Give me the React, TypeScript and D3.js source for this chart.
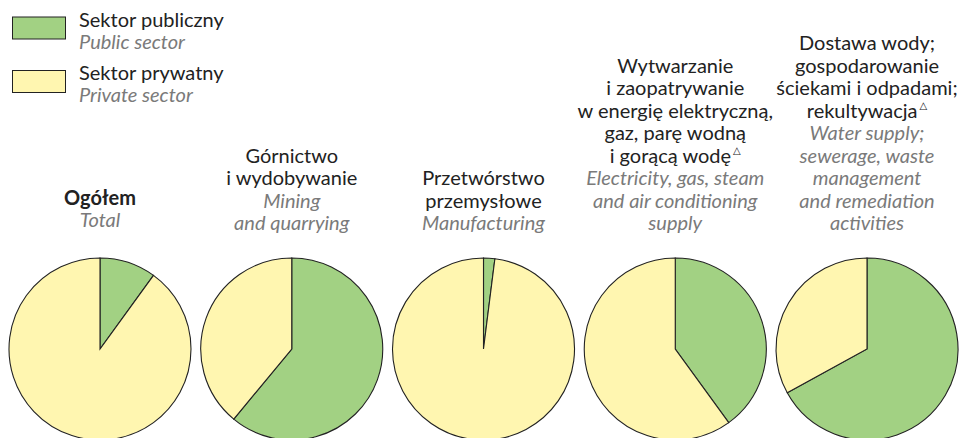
import React from 'react';
import * as d3 from 'd3';

// udział sektora publicznego / private = 100 - public
const keys = ['total', 'mining', 'manufacturing', 'electricity', 'water'];
const publicShare = [10, 61, 2, 40, 67];
const titlePl = [
  ['Ogółem'],
  ['Górnictwo', 'i wydobywanie'],
  ['Przetwórstwo', 'przemysłowe'],
  ['Wytwarzanie', 'i zaopatrywanie', 'w energię elektryczną,', 'gaz, parę wodną', 'i gorącą wodę△'],
  ['Dostawa wody;', 'gospodarowanie', 'ściekami i odpadami;', 'rekultywacja△'],
];
const titleEn = [
  ['Total'],
  ['Mining', 'and quarrying'],
  ['Manufacturing'],
  ['Electricity, gas, steam', 'and air conditioning', 'supply'],
  ['Water supply;', 'sewerage, waste', 'management', 'and remediation', 'activities'],
];
const legendPl = ['Sektor publiczny', 'Sektor prywatny'];
const legendEn = ['Public sector', 'Private sector'];

const W = 968;
const H = 438;
const GREEN = '#a2d183';
const YELLOW = '#fff6b0';
const FONT = 'Lato, "Open Sans", sans-serif';
const GREY = '#7a7a7a';
const FS = 20;

function Title({ pl, en, bold }: { pl: string[]; en: string[]; bold: boolean }) {
  const lh = 22.5;
  const lines = [...pl.map((t) => ({ t, en: false })), ...en.map((t) => ({ t, en: true }))];
  const bottom = bold ? 227 : 230;
  return (
    <g>
      {lines.map((l, i) => {
        const y = bottom - (lines.length - 1 - i) * lh;
        const parts = l.t.split('△');
        return (
          <text
            key={i}
            y={y}
            textAnchor="middle"
            fontFamily={FONT}
            fontSize={FS}
            fontStyle={l.en ? 'italic' : 'normal'}
            fontWeight={bold && !l.en ? 700 : 400}
            fill={l.en ? GREY : '#222'}
          >
            {parts[0]}
            {parts.length > 1 && (
              <tspan fontSize={10} dy={-9} dx={2} fontFamily='"DejaVu Sans"'>△</tspan>
            )}
          </text>
        );
      })}
    </g>
  );
}

export default function App() {
  const x = d3.scalePoint<string>().domain(keys).range([100, 867]);
  const r = 91;
  const cy = 349;
  const pie = d3.pie<number>().sort(null).value((d) => d);
  const arc = d3.arc<d3.PieArcDatum<number>>().innerRadius(0).outerRadius(r);

  return (
    <svg width={W} height={H} style={{ position: 'absolute', left: 0, top: 0, background: '#fff' }}>
      {/* legenda */}
      {legendPl.map((t, i) => (
        <g key={t} transform={`translate(0,${i * 53.5})`}>
          <rect x={12.5} y={17} width={53} height={22} fill={i === 0 ? GREEN : YELLOW} stroke="#222" strokeWidth={1} />
          <text x={79} y={26.5} fontFamily={FONT} fontSize={FS} fill="#222">{t}</text>
          <text x={79} y={48.5} fontFamily={FONT} fontSize={FS} fontStyle="italic" fill={GREY}>{legendEn[i]}</text>
        </g>
      ))}
      {keys.map((k, i) => {
        const cx = x(k) as number;
        const arcs = pie([publicShare[i], 100 - publicShare[i]]);
        return (
          <g key={k}>
            <g transform={`translate(${cx},0)`}>
              <Title pl={titlePl[i]} en={titleEn[i]} bold={i === 0} />
            </g>
            <g transform={`translate(${cx},${cy})`}>
              {arcs.map((a, j) => (
                <path key={j} d={arc(a) || ''} fill={j === 0 ? GREEN : YELLOW} stroke="#222" strokeWidth={1.1} />
              ))}
            </g>
          </g>
        );
      })}
    </svg>
  );
}
